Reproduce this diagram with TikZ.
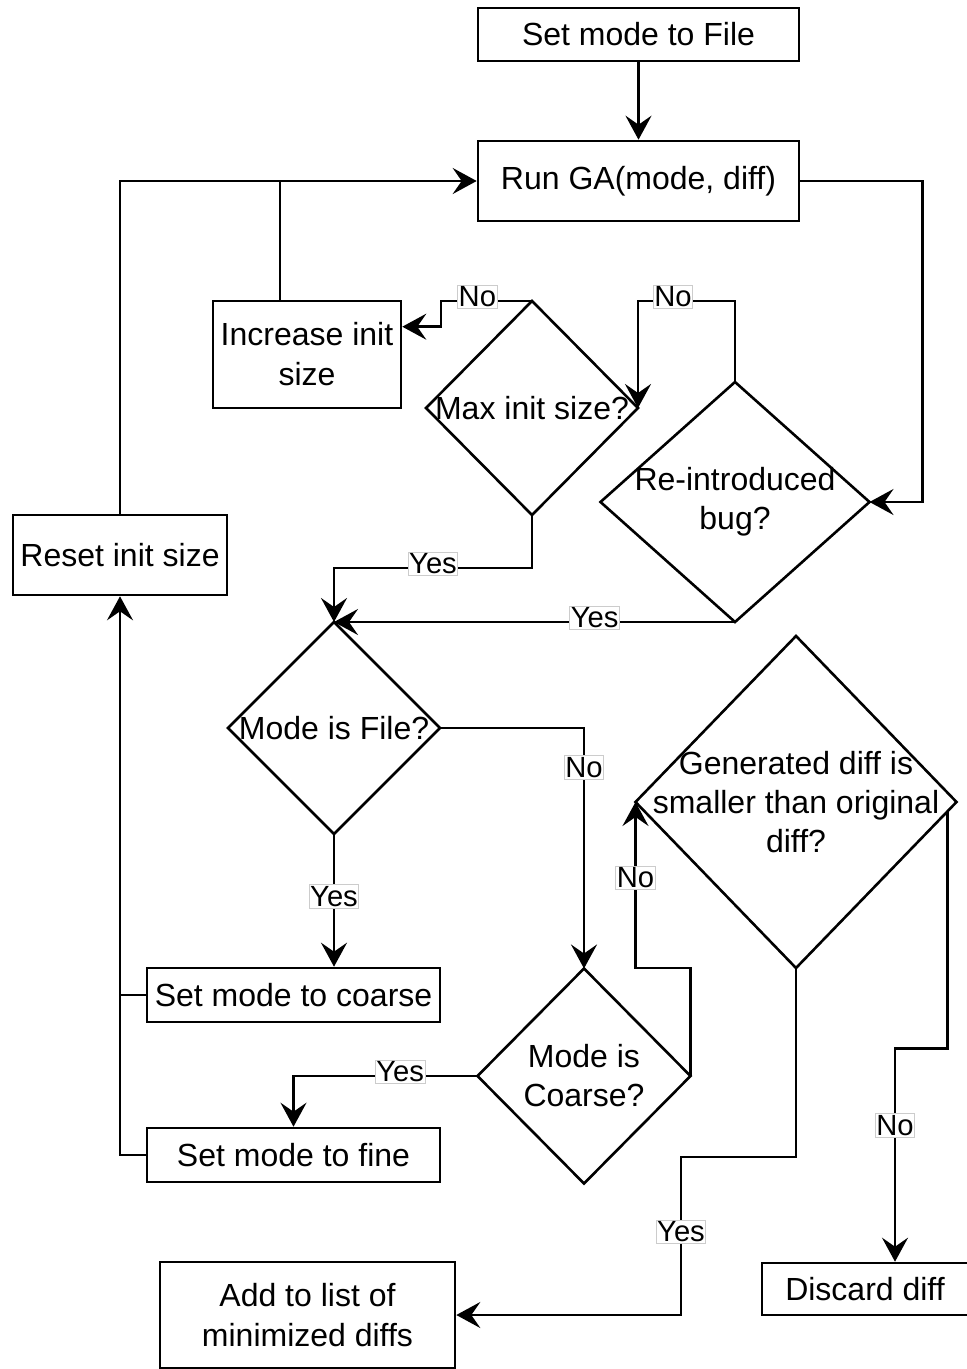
\documentclass[tikz,border=0pt]{standalone}
\usepackage{fontspec}
\setmainfont{Liberation Sans}
\usetikzlibrary{shapes.geometric,arrows.meta}

\tikzset{
	box/.style 2 args={draw, line width=1.3pt, minimum width=#1, minimum height=#2, inner sep=2pt, align=center, font=\fontsize{16}{20}\selectfont},
	decision/.style 2 args={draw, diamond, line width=1.3pt, minimum width=#1, minimum height=#2, inner sep=0pt, outer sep=0pt},
	dtext/.style={label={[align=center, font=\fontsize{16}{19.5}\selectfont]center:#1}},
	lbl/.style={fill=white, draw=black!20, line width=0.4pt, inner xsep=0.5pt, inner ysep=0.8pt, yshift=2pt, font=\fontsize{14.6}{17}\selectfont},
	arr/.style={line width=1.3pt, -{Stealth[length=12pt, width=13pt, inset=4.5pt]}},
	ln/.style={line width=1.3pt}
}

\begin{document}
\begin{tikzpicture}[x=0.5pt, y={(0pt,-0.5pt)}]
	\useasboundingbox (0,0) rectangle (967,1369);

	\node[box={160.5pt}{26.5pt}] (setfile) at (638.5, 34.5) {Set mode to File};
	\node[box={160.5pt}{40pt}] (runga) at (638.5, 181) {Run GA(mode, diff)};
	\node[box={94pt}{53.5pt}] (increase) at (307, 354.5) {Increase init\\size};
	\node[box={107pt}{40pt}] (reset) at (120, 555) {Reset init size};
	\node[box={146.5pt}{27pt}] (coarse) at (293.5, 995) {Set mode to coarse};
	\node[box={146.5pt}{27pt}] (fine) at (293.5, 1155) {Set mode to fine};
	\node[box={103pt}{26pt}] (discard) at (865, 1289) {Discard diff};
	\node[box={147.5pt}{53pt}] (addlist) at (307.5, 1315) {Add to list of\\minimized diffs};

	\node[decision={106pt}{107pt}, dtext={Max init size?}] (maxinit) at (532, 408) {};
	\node[decision={134.5pt}{120pt}, dtext={Re-introduced\\bug?}] (reintro) at (735, 502) {};
	\node[decision={106pt}{106pt}, dtext={Mode is File?}] (modefile) at (334, 728) {};
	\node[decision={106.5pt}{107.5pt}, dtext={Mode is\\Coarse?}] (modecoarse) at (584, 1076) {};
	\node[decision={160.5pt}{166pt}, dtext={Generated diff is\\smaller than original\\diff?}] (generated) at (796, 802) {};

	\path[arr] (setfile) edge (runga);
	\draw[arr] (runga.east) -- ++(122,0) |- (reintro.east);
	\draw[arr] (reintro.north) -- ++(0,-81) -| (maxinit.east) node[lbl, pos=0.32] {No};
	\draw[arr] (maxinit.north) -- ++(-91,0) node[lbl, pos=0.6] {No} |- ([yshift=-13.5pt]increase.north east);
	\draw[arr] (reset.north) |- (runga.west);
	\draw[ln] ([xshift=-13.5pt]increase.north) -- ++(0,-120);
	\draw[arr] (maxinit.south) -- ++(0,53) -| (modefile.north) node[lbl, pos=0.25] {Yes};
	\draw[arr] (reintro.south) -- (modefile.north) node[lbl, pos=0.35] {Yes};
	\draw[arr] (modefile.south) -- (modefile.south |- coarse.north) node[lbl, midway] {Yes};
	\draw[arr] (modefile.east) -| (modecoarse.north) node[lbl, pos=0.59] {No};
	\draw[ln] (coarse.west) -- (coarse.west -| reset.south);
	\draw[arr] (fine.west) -| (reset.south);
	\draw[arr] (modecoarse.west) -| (fine.north) node[lbl, pos=0.21] {Yes};
	\draw[arr] (modecoarse.east) -- ++(0,-108) -| (generated.west) node[lbl, pos=0.76] {No};
	\draw[arr] (generated.south) -- ++(0,189) -- ++(-115,0) |- (addlist.east) node[lbl, pos=0.25] {Yes};
	\draw[arr] ([xshift=-4.5pt, yshift=-4.6pt]generated.east) -- ++(0,237) -| ([xshift=15pt]discard.north) node[lbl, pos=0.69] {No};

\end{tikzpicture}
\end{document}
